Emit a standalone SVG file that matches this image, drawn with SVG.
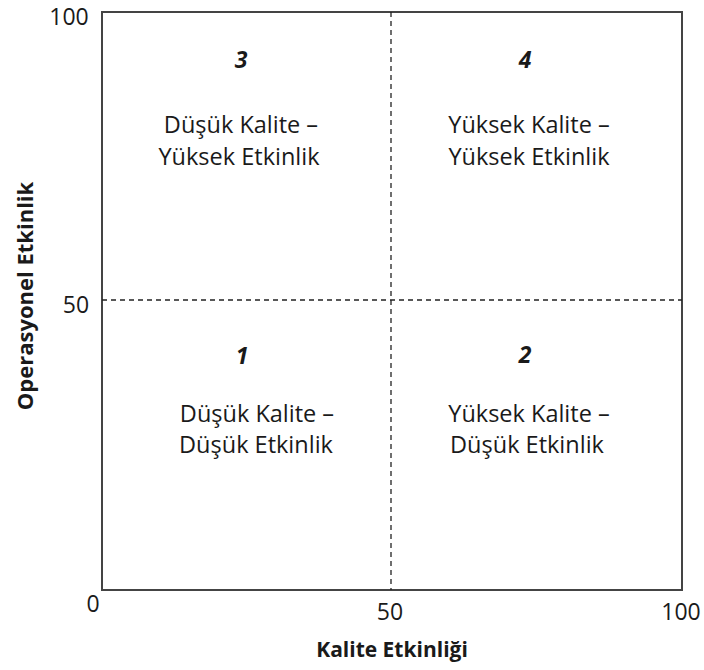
<svg xmlns="http://www.w3.org/2000/svg" width="704" height="670" viewBox="0 0 704 670">
  <style>
    .txt { font-family: "Open Sans", "Liberation Sans", sans-serif; fill: #1a1a1a; }
    .quad { font-size: 23.5px; text-anchor: middle; }
    .num { font-size: 23px; font-weight: bold; font-style: italic; text-anchor: middle; }
    .tick { font-size: 23px; text-anchor: middle; }
    .axis { font-size: 21px; font-weight: bold; text-anchor: middle; }
    .frame { fill: none; stroke: #444; stroke-width: 2; }
    .divider { fill: none; stroke: #222; stroke-width: 1.3; stroke-dasharray: 5 4; }
  </style>
  <rect width="704" height="670" fill="#ffffff"/>

  <!-- chart frame -->
  <rect id="frame" class="frame" x="102" y="12" width="580" height="578"/>

  <!-- dashed quadrant dividers -->
  <g id="dividers">
    <line class="divider" x1="391" y1="12" x2="391" y2="590"/>
    <line class="divider" x1="102" y1="300" x2="682" y2="300"/>
  </g>

  <!-- quadrant 3: top left -->
  <g id="q3" class="txt">
    <text class="num" x="241" y="68">3</text>
    <text class="quad" x="241" y="133">Düşük Kalite –</text>
    <text class="quad" x="239" y="165">Yüksek Etkinlik</text>
  </g>

  <!-- quadrant 4: top right -->
  <g id="q4" class="txt">
    <text class="num" x="525" y="68">4</text>
    <text class="quad" x="529" y="133">Yüksek Kalite –</text>
    <text class="quad" x="529" y="165">Yüksek Etkinlik</text>
  </g>

  <!-- quadrant 1: bottom left -->
  <g id="q1" class="txt">
    <text class="num" x="242" y="364">1</text>
    <text class="quad" x="257" y="422">Düşük Kalite –</text>
    <text class="quad" x="256" y="453">Düşük Etkinlik</text>
  </g>

  <!-- quadrant 2: bottom right -->
  <g id="q2" class="txt">
    <text class="num" x="525" y="363">2</text>
    <text class="quad" x="529" y="422">Yüksek Kalite –</text>
    <text class="quad" x="527" y="453">Düşük Etkinlik</text>
  </g>

  <!-- axis ticks -->
  <g id="ticks" class="txt">
    <text class="tick" x="69" y="25">100</text>
    <text class="tick" x="76" y="313">50</text>
    <text class="tick" x="93" y="612">0</text>
    <text class="tick" x="390" y="620">50</text>
    <text class="tick" x="681" y="620">100</text>
  </g>

  <!-- axis titles -->
  <g id="axis-titles" class="txt">
    <text class="axis" x="392" y="657">Kalite Etkinliği</text>
    <text class="axis" style="font-size:22px" transform="translate(33 296) rotate(-90)">Operasyonel Etkinlik</text>
  </g>
</svg>
